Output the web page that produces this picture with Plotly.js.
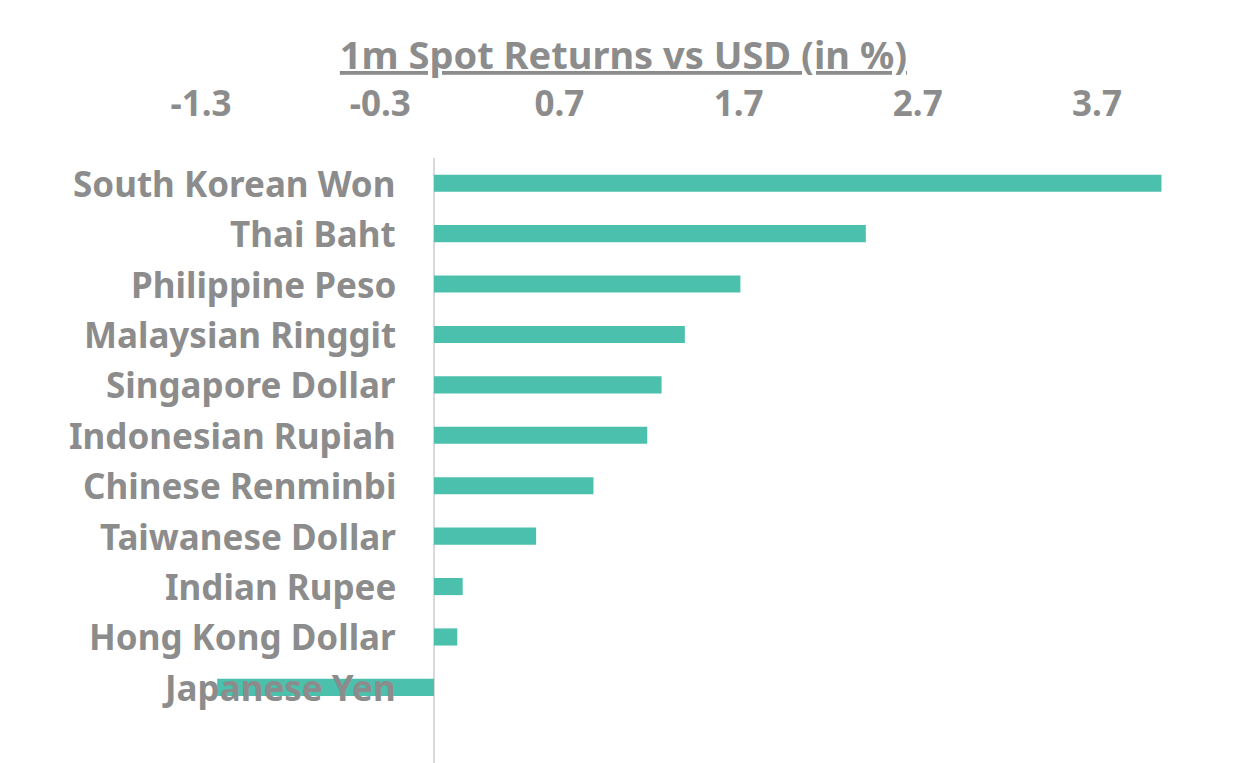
<!DOCTYPE html>
<html>
<head>
<meta charset="utf-8">
<script src="https://cdn.plot.ly/plotly-3.0.1.min.js"></script>
<style>html,body{margin:0;padding:0;background:#fff;}#chart{width:1237px;height:763px;}</style>
</head>
<body>
<div id="chart"></div>
<script>
const currencies = ["South Korean Won","Thai Baht","Philippine Peso","Malaysian Ringgit","Singapore Dollar","Indonesian Rupiah","Chinese Renminbi","Taiwanese Dollar","Indian Rupee","Hong Kong Dollar","Japanese Yen"];
const returns1m = [4.06, 2.41, 1.71, 1.40, 1.27, 1.19, 0.89, 0.57, 0.16, 0.13, -1.21];
const tickValues = [-1.3, -0.3, 0.7, 1.7, 2.7, 3.7];
const tickLabels = ["-1.3", "-0.3", "0.7", "1.7", "2.7", "3.7"];

const gray = '#8C8C8C';
const fontFam = '"Noto Sans", "Open Sans", sans-serif';

const trace = {
  type: 'bar',
  orientation: 'h',
  x: returns1m,
  y: currencies,
  marker: {color: '#4BC0AD'},
  hoverinfo: 'x+y'
};

const annotations = currencies.map(c => ({
  xref: 'x', yref: 'y',
  x: -0.2, y: c,
  text: '<b>' + c + '</b>',
  showarrow: false,
  xanchor: 'right', yanchor: 'middle',
  font: {family: fontFam, size: 35, color: gray}
}));

const layout = {
  width: 1237, height: 763,
  paper_bgcolor: '#fff', plot_bgcolor: '#fff',
  margin: {l: 150, r: 37, t: 158, b: 0},
  showlegend: false,
  bargap: 0.66,
  title: {
    text: '<b><u>1m Spot Returns vs USD (in %)</u></b>',
    font: {family: fontFam, size: 38, color: gray},
    x: 0.504, xref: 'container', xanchor: 'center',
    y: 0.927, yref: 'container', yanchor: 'middle'
  },
  xaxis: {
    side: 'top',
    range: [-1.585, 4.275],
    tickmode: 'array',
    tickvals: tickValues,
    ticktext: tickLabels.map(t => '<b>' + t + '</b>'),
    showgrid: false,
    zeroline: true, zerolinecolor: '#D9D9D9', zerolinewidth: 2,
    showline: false,
    ticks: '',
    ticklabelstandoff: 34,
    tickfont: {family: fontFam, size: 35, color: gray},
    fixedrange: true
  },
  yaxis: {
    type: 'category',
    categoryorder: 'array',
    categoryarray: currencies,
    range: [11.5, -0.5],
    showticklabels: false,
    showgrid: false, zeroline: false, showline: false, ticks: '',
    fixedrange: true
  },
  annotations: annotations
};

Plotly.newPlot('chart', [trace], layout, {displayModeBar: false, staticPlot: true});
</script>
</body>
</html>
